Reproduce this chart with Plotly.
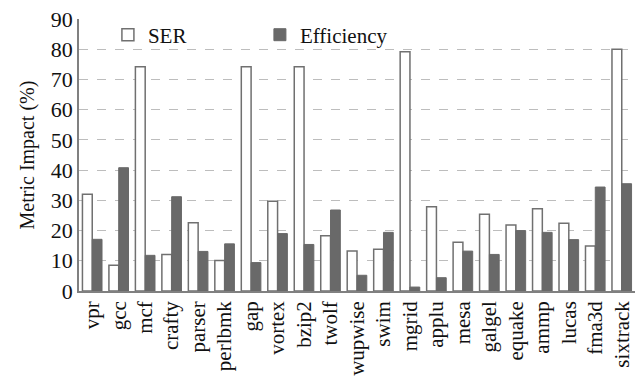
import plotly.graph_objects as go

categories = ["vpr", "gcc", "mcf", "crafty", "parser", "perlbmk", "gap", "vortex",
              "bzip2", "twolf", "wupwise", "swim", "mgrid", "applu", "mesa", "galgel",
              "equake", "ammp", "lucas", "fma3d", "sixtrack"]
ser = [32.0, 8.5, 74.2, 12.1, 22.6, 10.1, 74.2, 29.7, 74.2, 18.3, 13.2,
       13.8, 79.2, 27.9, 16.1, 25.4, 21.8, 27.2, 22.4, 14.9, 80.0]
efficiency = [17.1, 40.8, 11.8, 31.2, 13.1, 15.6, 9.4, 19.0, 15.4, 26.8, 5.2,
              19.4, 1.3, 4.4, 13.2, 12.1, 20.0, 19.4, 17.0, 34.4, 35.5]
y_ticks = [0, 10, 20, 30, 40, 50, 60, 70, 80, 90]

FONT = "Liberation Serif"

fig = go.Figure()
fig.add_trace(go.Bar(x=categories, y=ser, name="SER",
                     marker=dict(color="white", line=dict(color="#707070", width=1.5))))
fig.add_trace(go.Bar(x=categories, y=efficiency, name="Efficiency",
                     marker=dict(color="#696969", line=dict(color="#696969", width=1))))

fig.update_layout(
    width=641, height=378,
    margin=dict(l=79, r=6, t=19, b=87, autoexpand=False),
    paper_bgcolor="white", plot_bgcolor="white",
    font=dict(family=FONT, size=18, color="#111111"),
    barmode="group", bargap=0.26, bargroupgap=0,
    showlegend=True,
    legend=dict(orientation="h", x=0.052, y=0.941, xanchor="left", yanchor="middle",
                bgcolor="rgba(0,0,0,0)", font=dict(family=FONT, size=21),
                entrywidth=107, entrywidthmode="pixels", traceorder="normal"),
    xaxis=dict(showline=True, linecolor="#808080", linewidth=1.5, ticks="",
               tickangle=-90, showgrid=False, tickfont=dict(family=FONT, size=21),
               automargin=False),
    yaxis=dict(range=[0, 90], tickvals=y_ticks, showline=True, linecolor="#808080",
               linewidth=1.5, showgrid=True, gridcolor="#bdbdbd", griddash="dash",
               gridwidth=1.2, ticks="", zeroline=False,
               tickfont=dict(family=FONT, size=22), automargin=False,
               title=dict(text="Metric Impact (%)", font=dict(family=FONT, size=20),
                          standoff=11)),
)

fig.write_html("out.html", config={"displayModeBar": False},
               post_script="document.body.style.margin='0';document.body.style.padding='0';")
